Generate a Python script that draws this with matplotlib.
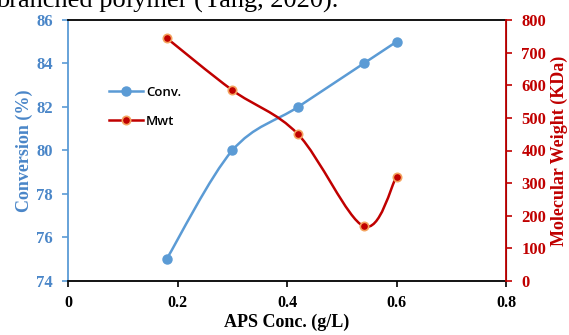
import numpy as np
import matplotlib.pyplot as plt
from matplotlib.path import Path
from matplotlib.patches import PathPatch
from matplotlib.lines import Line2D

# data
aps_conc = [0.18, 0.30, 0.42, 0.54, 0.60]
conversion = [75, 80, 82, 84, 85]
mol_weight = [745, 585, 450, 168, 320]

blue = "#5B9BD5"
blue_txt = "#4A86C8"
red = "#C00000"
orange = "#F4A460"

serif = "Liberation Serif"


def smooth_path(xs, ys):
    # excel-style smoothed line: catmull-rom drawn as cubic beziers
    pts = np.column_stack([xs, ys]).astype(float)
    n = len(pts)
    verts = [pts[0]]
    codes = [Path.MOVETO]
    for i in range(n - 1):
        p0 = pts[i - 1] if i > 0 else pts[i]
        p1 = pts[i]
        p2 = pts[i + 1]
        p3 = pts[i + 2] if i + 2 < n else pts[i + 1]
        verts += [p1 + (p2 - p0) / 6, p2 - (p3 - p1) / 6, p2]
        codes += [Path.CURVE4] * 3
    return Path(verts, codes)


fig = plt.figure(figsize=(5.69, 3.35), dpi=100)
ax = fig.add_axes([68 / 569, 54 / 335, 438 / 569, 261 / 335])
ax2 = ax.twinx()

# cut-off caption line from the page above the chart
fig.text(-4 / 569, 1 - 8 / 335, "branched polymer (Yang, 2020).",
         family=serif, fontsize=19, va="baseline", ha="left")

ax.add_patch(PathPatch(smooth_path(aps_conc, conversion), fill=False,
                       edgecolor=blue, lw=1.8, zorder=2))
ax.plot(aps_conc, conversion, "o", color=blue, markersize=6.5, zorder=3)

ax2.add_patch(PathPatch(smooth_path(aps_conc, mol_weight), fill=False,
                        edgecolor=red, lw=1.8, zorder=2))
ax2.plot(aps_conc, mol_weight, "o", color=red, markeredgecolor=orange,
         markeredgewidth=1.2, markersize=6, zorder=3)

ax.set_xlim(0, 0.8)
ax.set_ylim(74, 86)
ax2.set_ylim(0, 800)
ax.set_xticks([0, 0.2, 0.4, 0.6, 0.8])
ax.set_xticklabels(["0", "0.2", "0.4", "0.6", "0.8"])
ax.set_yticks(range(74, 87, 2))
ax2.set_yticks(range(0, 801, 100))

for s in ["top", "bottom"]:
    ax.spines[s].set_color("black")
    ax.spines[s].set_linewidth(1.3)
ax.spines["left"].set_color(blue)
ax.spines["left"].set_linewidth(1.3)
ax2.spines["right"].set_color(red)
ax2.spines["right"].set_linewidth(1.3)
ax2.spines["left"].set_visible(False)
ax2.spines["top"].set_visible(False)
ax2.spines["bottom"].set_visible(False)

ax.tick_params(axis="x", direction="out", length=4, width=1.2, pad=6, colors="black")
ax.tick_params(axis="y", direction="out", length=4, width=1.2, pad=7,
               color=blue, labelcolor=blue_txt)
ax2.tick_params(axis="y", direction="out", length=4, width=1.2, pad=7,
                color=red, labelcolor=red)
for lab in ax.get_xticklabels():
    lab.set_fontproperties(dict(family=serif, weight="bold", size=11.5))
for lab in ax.get_yticklabels() + ax2.get_yticklabels():
    lab.set_fontproperties(dict(family=serif, weight="bold", size=12))

ax.set_xlabel("APS Conc. (g/L)", family=serif, weight="bold", size=13,
              labelpad=2)
ax.set_ylabel("Conversion (%)", family=serif, weight="bold", size=13,
              color=blue_txt, labelpad=2)
ax2.set_ylabel("Molecular Weight (KDa)", family=serif, weight="bold",
               size=13, color=red, labelpad=3)

handles = [
    Line2D([], [], color=blue, lw=1.8, marker="o", markersize=6.5),
    Line2D([], [], color=red, lw=1.8, marker="o", markersize=6,
           markeredgecolor=orange, markeredgewidth=1.2),
]
ax2.legend(handles, ["Conv.", "Mwt"], loc="upper left",
           bbox_to_anchor=(109 / 569, 1 - 86 / 335),
           bbox_transform=fig.transFigure, frameon=False,
           prop=dict(family="Open Sans", weight="semibold", size=9.5),
           handlelength=2.6, handletextpad=0.2, labelspacing=1.2,
           borderpad=0, borderaxespad=0)

fig.savefig("out.png", dpi=100)
